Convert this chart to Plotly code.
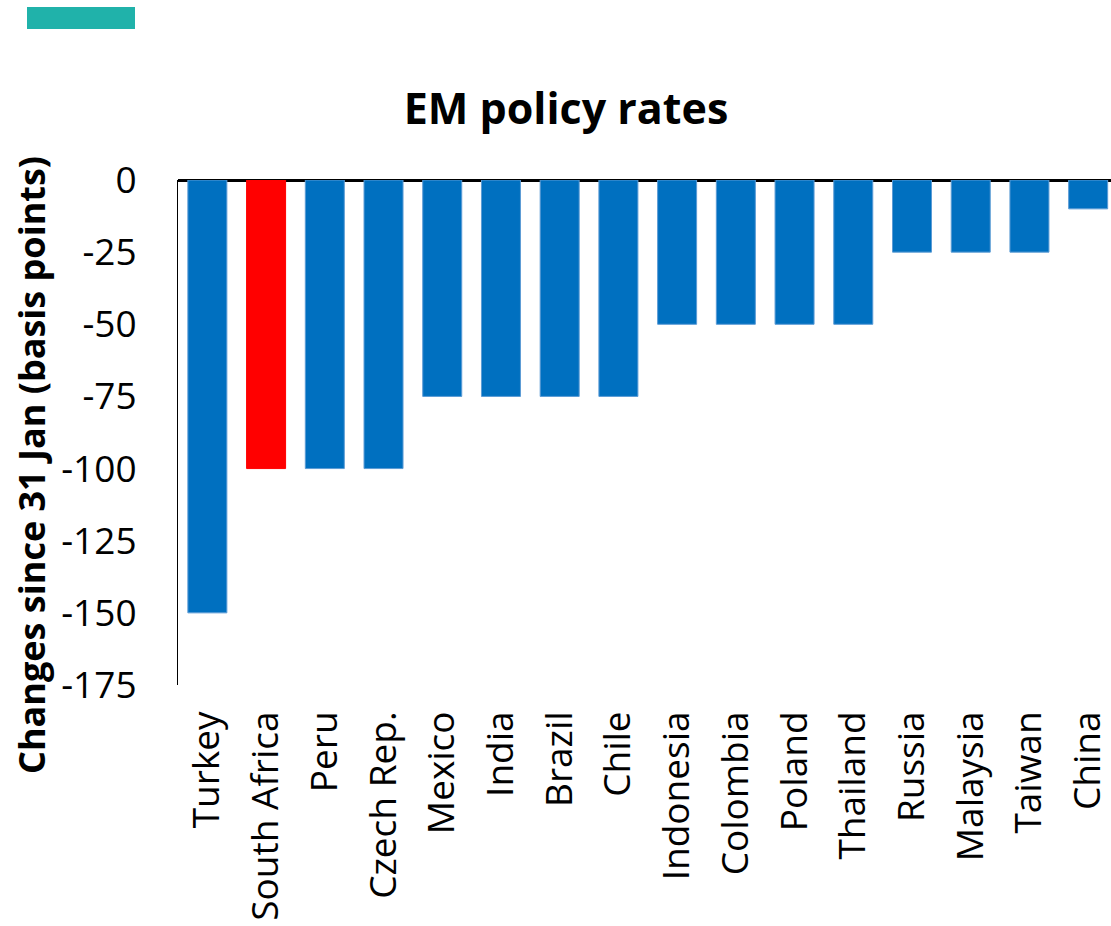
import plotly.graph_objects as go

countries = ["Turkey", "South Africa", "Peru", "Czech Rep.", "Mexico", "India", "Brazil", "Chile",
             "Indonesia", "Colombia", "Poland", "Thailand", "Russia", "Malaysia", "Taiwan", "China"]
changes_bp = [-150, -100, -100, -100, -75, -75, -75, -75, -50, -50, -50, -50, -25, -25, -25, -10]
highlight = "South Africa"

y_ticks = [0, -25, -50, -75, -100, -125, -150, -175]

BLUE = "#0070C0"
BLUE_EDGE = "#5B9BD5"
RED = "#FF0000"
FONT = "Open Sans"

fill_colors = [RED if c == highlight else BLUE for c in countries]
edge_colors = [RED if c == highlight else BLUE_EDGE for c in countries]

W, H = 1111, 926
ML, MR, MT, MB = 178, 0, 180, 241
PW = W - ML - MR
PH = H - MT - MB
cat_w = 58.72

def px_x(p):
    return (p - ML) / PW

def px_y(p):
    return (H - MB - p) / PH

fig = go.Figure()
fig.add_trace(go.Bar(
    x=countries,
    y=changes_bp,
    marker=dict(color=fill_colors, line=dict(color=edge_colors, width=1)),
    hoverinfo="x+y",
))

fig.update_layout(
    width=W, height=H,
    margin=dict(l=ML, r=MR, t=MT, b=MB, pad=0),
    paper_bgcolor="white",
    plot_bgcolor="white",
    showlegend=False,
    bargap=0.336,
    font=dict(family=FONT, color="black"),
    title=dict(
        text="<b>EM policy rates</b>",
        font=dict(family=FONT, size=43, color="black"),
        x=566 / W, xref="container", xanchor="center",
        y=1 - 109 / H, yref="container", yanchor="middle",
    ),
    xaxis=dict(
        range=[-0.5, -0.5 + PW / cat_w],
        tickangle=-90,
        tickfont=dict(family=FONT, size=37, color="black"),
        showline=False,
        showgrid=False,
        zeroline=False,
        ticks="",
        ticklabelstandoff=18,
        fixedrange=True,
    ),
    yaxis=dict(
        range=[-175, 0],
        tickvals=y_ticks,
        ticktext=[str(v) for v in y_ticks],
        tickfont=dict(family=FONT, size=37, color="black"),
        showline=True,
        linecolor="black",
        linewidth=1,
        showgrid=False,
        zeroline=True,
        zerolinecolor="black",
        zerolinewidth=3,
        ticks="",
        ticklabelstandoff=33,
        fixedrange=True,
    ),
    annotations=[dict(
        text="<b>Changes since 31 Jan (basis points)</b>",
        textangle=-90,
        xref="paper", yref="paper",
        x=px_x(31), y=px_y(465),
        xanchor="center", yanchor="middle",
        showarrow=False,
        font=dict(family=FONT, size=36, color="black"),
    )],
    shapes=[dict(
        type="rect", xref="paper", yref="paper",
        x0=px_x(27), x1=px_x(135), y0=px_y(29), y1=px_y(7),
        fillcolor="#20B2AA", line=dict(width=0),
    )],
)

fig.write_html(
    "out.html",
    config={"displayModeBar": False},
    post_script="document.documentElement.style.margin='0';document.body.style.margin='0';document.body.style.overflow='hidden';",
)
